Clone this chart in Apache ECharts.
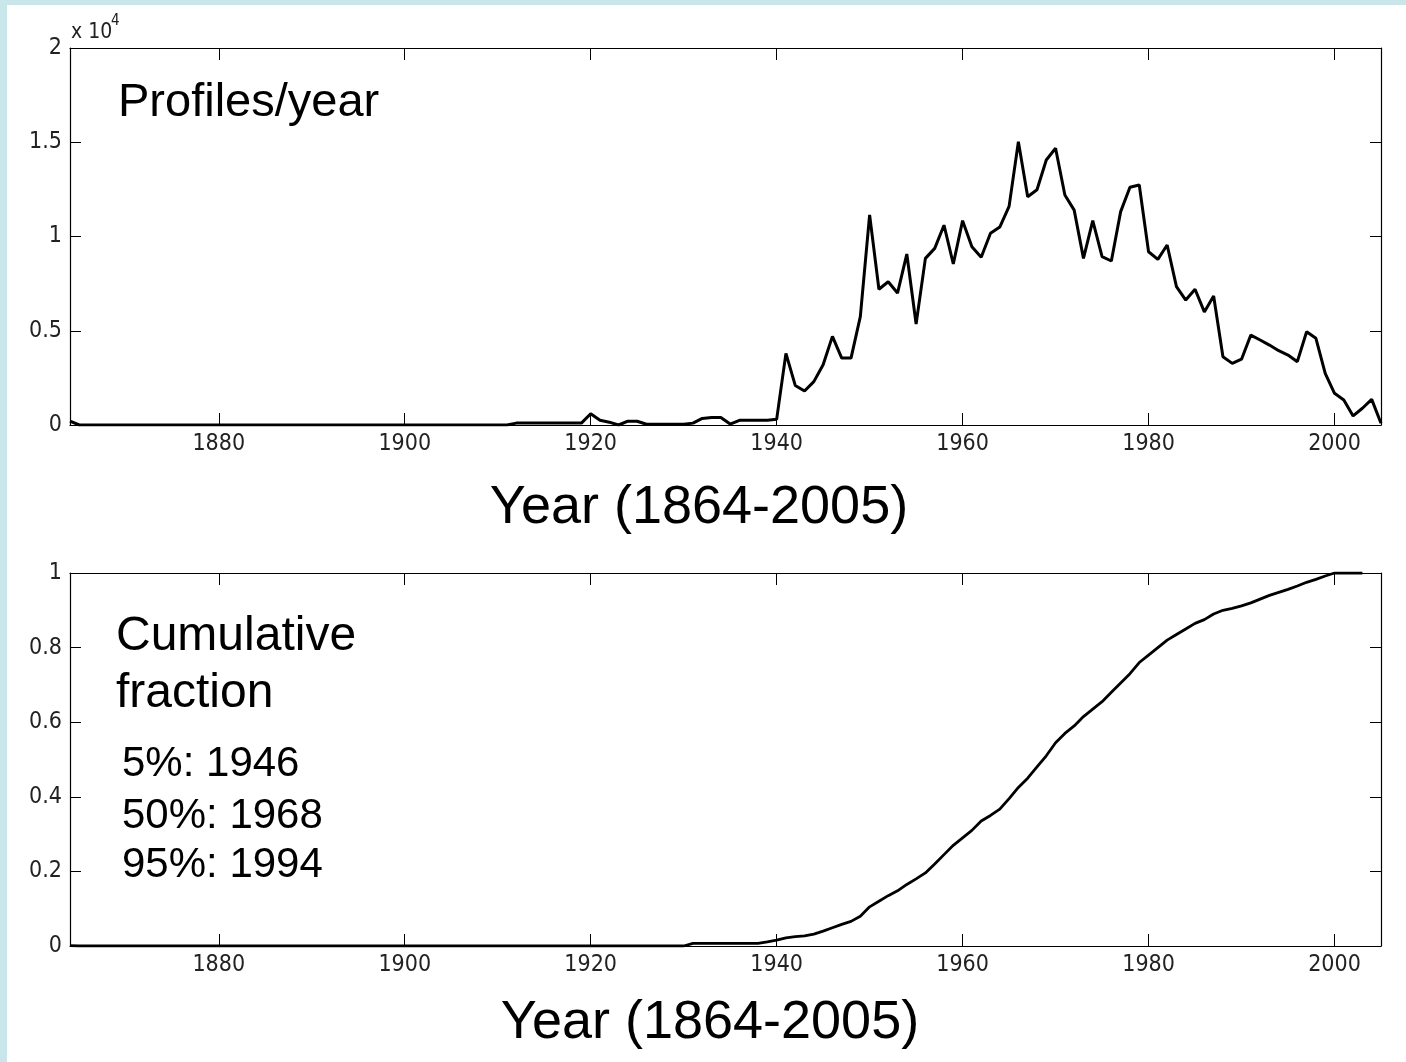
<!DOCTYPE html>
<html>
<head>
<meta charset="utf-8">
<script src="https://cdn.jsdelivr.net/npm/echarts@6/dist/echarts.min.js"></script>
<style>
  html, body { margin: 0; padding: 0; background: #c9e7eb; }
  #paper { position: absolute; left: 7px; top: 5px; width: 1399px; height: 1057px; background: #fff; }
  #chart { position: absolute; left: 0; top: 0; width: 1406px; height: 1062px; }
</style>
</head>
<body>
<div id="paper"></div>
<div id="chart"></div>
<script>
// profiles per year, 1864..2005
const firstYear = 1864;
const profilesPerYear = [
  200,
  0, 0, 0, 0, 0, 0, 0, 0, 0, 0, 0, 0, 0, 0, 0, 0, 0, 0, 0, 0, 0, 0, 0, 0,
  0, 0, 0, 0, 0, 0, 0, 0, 0, 0, 0, 0, 0, 0, 0, 0, 0, 0, 0, 0, 0, 0, 0,
  100, 100, 100, 100, 100, 100, 100, 100,
  600, 250, 150, 0, 200, 200, 40, 40, 40, 40, 40, 100,
  350, 400, 400, 50, 250, 250, 250, 250, 300,
  3800, 2100, 1800, 2300, 3200, 4700, 3550, 3550, 5750,
  11150, 7200, 7600, 7000, 9070, 5360, 8840, 9370, 10600, 8540,
  10840, 9460, 8900, 10170, 10500, 11600, 15030, 12110, 12480, 14060,
  14680, 12200, 11400, 8840, 10840, 8930, 8700, 11320, 12610, 12730,
  9190, 8790, 9550, 7340, 6630, 7200, 6000, 6840, 3620, 3270,
  3490, 4770, 4510, 4240, 3940, 3710, 3360, 4950, 4600, 2740,
  1680, 1330, 480, 890, 1360, 90
];

// cumulative fraction, 1864..2003
const cumulativeFraction = [
  0.001, 0, 0, 0, 0, 0, 0, 0, 0, 0, 0, 0, 0, 0, 0, 0, 0, 0, 0, 0, 0, 0, 0, 0,
  0, 0, 0, 0, 0, 0, 0, 0, 0, 0, 0, 0, 0, 0, 0, 0, 0, 0, 0, 0, 0, 0, 0, 0,
  0, 0, 0, 0, 0, 0, 0, 0, 0, 0, 0, 0, 0, 0, 0, 0, 0, 0, 0,
  0.007, 0.007, 0.007, 0.007, 0.007, 0.007, 0.007, 0.007, 0.011,
  0.016, 0.022, 0.025, 0.027, 0.032, 0.040, 0.049, 0.058, 0.066, 0.080,
  0.105, 0.120, 0.135, 0.148, 0.165, 0.180, 0.196, 0.220, 0.245, 0.270,
  0.290, 0.310, 0.335, 0.350, 0.367, 0.395, 0.425, 0.450, 0.480, 0.510,
  0.545, 0.570, 0.590, 0.615, 0.635, 0.655, 0.680, 0.705, 0.730, 0.760,
  0.780, 0.800, 0.820, 0.835, 0.850, 0.865, 0.875, 0.890, 0.900, 0.905,
  0.912, 0.920, 0.930, 0.940, 0.948, 0.956, 0.965, 0.975, 0.983, 0.992,
  1.0, 1.0, 1.0, 1.0
];

const xTicks = [1880, 1900, 1920, 1940, 1960, 1980, 2000];
const percentileLabels = ['5%: 1946', '50%: 1968', '95%: 1994'];

const tickFont = "'Liberation Sans Narrow', 'Arial Narrow', 'DejaVu Sans Condensed', sans-serif";
const bigFont = "'Liberation Sans', Arial, sans-serif";

function pairs(values) {
  return values.map((v, i) => [firstYear + i, v]);
}

function xAxis(grid, pos, labels) {
  return {
    type: 'value', gridIndex: grid, position: pos,
    min: 1864, max: 2005,
    splitLine: { show: false },
    axisLine: { onZero: false, lineStyle: { color: '#000', width: 1.2 } },
    axisTick: { inside: true, length: 12, customValues: xTicks, lineStyle: { color: '#000', width: 1 } },
    axisLabel: {
      show: labels, customValues: xTicks, margin: 8,
      formatter: v => String(v),
      fontSize: 23, fontFamily: tickFont, color: '#222'
    }
  };
}

function yAxis(grid, pos, labels, max, interval, fmt) {
  return {
    type: 'value', gridIndex: grid, position: pos,
    min: 0, max: max, interval: interval,
    splitLine: { show: false },
    axisLine: { onZero: false, lineStyle: { color: '#000', width: 1.2 } },
    axisTick: { inside: true, length: 11, lineStyle: { color: '#000', width: 1 } },
    axisLabel: {
      show: labels, margin: 8, formatter: fmt,
      fontSize: 23, fontFamily: tickFont, color: '#222'
    }
  };
}

function label(x, y, text, size, align) {
  return {
    type: 'text', x: x, y: y, z: 10,
    style: {
      text: text, fill: '#000',
      font: size + 'px ' + bigFont,
      textAlign: align || 'left', textVerticalAlign: 'middle',
      align: align || 'left', verticalAlign: 'middle'
    }
  };
}

const chart = echarts.init(document.getElementById('chart'));

const option = {
  animation: false,
  backgroundColor: 'transparent',
  grid: [
    { left: 70, top: 48, width: 1311, height: 377 },
    { left: 70, top: 573, width: 1311, height: 373 }
  ],
  xAxis: [
    xAxis(0, 'bottom', true), xAxis(0, 'top', false),
    xAxis(1, 'bottom', true), xAxis(1, 'top', false)
  ],
  yAxis: [
    yAxis(0, 'left', true, 20000, 5000, v => String(v / 10000)),
    yAxis(0, 'right', false, 20000, 5000),
    yAxis(1, 'left', true, 1, 0.2, v => String(Math.round(v * 10) / 10)),
    yAxis(1, 'right', false, 1, 0.2)
  ],
  series: [
    {
      type: 'line', xAxisIndex: 0, yAxisIndex: 0,
      data: pairs(profilesPerYear),
      showSymbol: false, z: 5,
      lineStyle: { color: '#000', width: 3 }
    },
    {
      type: 'line', xAxisIndex: 2, yAxisIndex: 2,
      data: pairs(cumulativeFraction),
      showSymbol: false, z: 5,
      lineStyle: { color: '#000', width: 2.8 }
    }
  ],
  graphic: [
    { type: 'text', x: 71, y: 33, style: { text: 'x 10', font: '21px ' + tickFont, fill: '#222', textVerticalAlign: 'middle', verticalAlign: 'middle' } },
    { type: 'text', x: 111, y: 21, style: { text: '4', font: '15px ' + tickFont, fill: '#222', textVerticalAlign: 'middle', verticalAlign: 'middle' } },
    label(118, 103, 'Profiles/year', 47),
    label(699, 508, 'Year (1864-2005)', 54, 'center'),
    label(116, 637, 'Cumulative', 48),
    label(116, 694, 'fraction', 48),
    label(122, 764, percentileLabels[0], 42),
    label(122, 816, percentileLabels[1], 42),
    label(122, 865, percentileLabels[2], 42),
    label(710, 1023, 'Year (1864-2005)', 54, 'center')
  ]
};

chart.setOption(option);
</script>
</body>
</html>
